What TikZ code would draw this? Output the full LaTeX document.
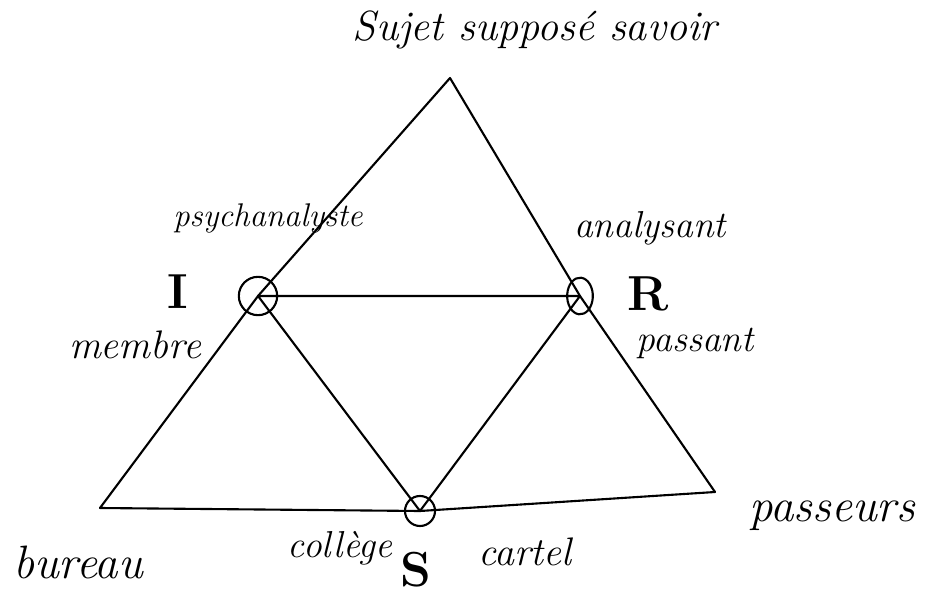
\documentclass[tikz,border=0pt]{standalone}
\usepackage{fontspec}
\usetikzlibrary{positioning}

\begin{document}
\begin{tikzpicture}[
  x=0.03cm, y=-0.03cm,
  ring/.style={draw, circle, line width=1.8pt, minimum size=1.15cm, inner sep=0pt},
  edge/.style={line width=1.8pt, line join=round},
  word/.style={font=\fontsize{#1}{#1}\selectfont\itshape},
  word/.default=32,
  letter/.style={font=\fontsize{42}{46}\selectfont\bfseries},
]
\useasboundingbox (0,0) rectangle (928,596);

% corners of the big triangle
\coordinate (top) at (450,78);
\coordinate (bl) at (100,508);
\coordinate (br) at (715,492);

% the three knots
\node[ring] (knotI) at (258,296) {};
\node[ring, minimum size=1.1cm, xscale=0.7, rotate=40] (knotR) at (580,296) {};
\node[ring, minimum size=0.9cm] (knotS) at (420,511) {};

% outer triangle through the knots
\draw[edge] (bl) -- (knotI.center) -- (top) -- (knotR.center) -- (br) -- (knotS.center) -- cycle;

% inner triangle
\draw[edge] (knotI.center) -- (knotR.center) -- (knotS.center) -- cycle;

% labels
\node[word=36] (ssav) at (535,30) {Sujet supposé savoir};
\node[word=28] (psy) at (268,218) {psychanalyste};
\node[letter] (lettI) at (178,292) {I};
\node[word=34] (memb) at (135,345) {membre};
\node[word] (anal) at (650,228) {analysant};
\node[letter] (lettR) at (648,294) {R};
\node[word] (pass) at (695,343) {passant};
\node[word=40] (bur) at (78,562) {bureau};
\node[word] (coll) at (340,548) {collège};
\node[letter] (lettS) at (416,570) {S};
\node[word=34] (cart) at (525,552) {cartel};
\node[word=40] (passeurs) at (832,516) {passeurs};
\end{tikzpicture}
\end{document}
